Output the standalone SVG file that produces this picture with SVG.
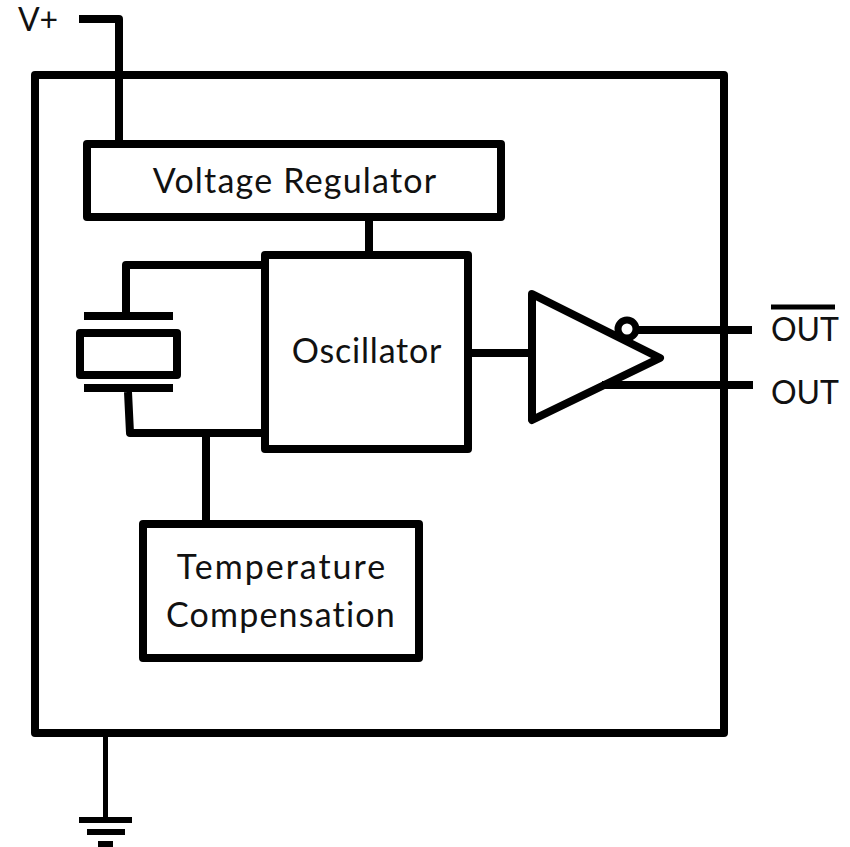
<svg xmlns="http://www.w3.org/2000/svg" width="850" height="847" viewBox="0 0 850 847">
<style>
.s{fill:none;stroke:#000;stroke-width:8;stroke-linejoin:round;stroke-linecap:butt}
.t{font-family:"Lato","Open Sans",sans-serif;font-size:34px;letter-spacing:1.200px;fill:#111;text-anchor:middle}
.l{font-family:"Lato","Open Sans",sans-serif;font-size:32px;fill:#111;text-anchor:middle}
.g{stroke-width:6}
</style>
<rect width="850" height="847" fill="#fff"/>
<g id="connectors">
<path class="s" stroke-linecap="round" d="M79 19H119V144"/>
<path class="s" d="M369 217V255"/>
<path class="s" d="M265 265H126V312"/>
<path class="s" d="M128 392L130 433H265"/>
<path class="s" d="M206 433V524"/>
<path class="s" d="M470 353H532"/>
<path class="s" stroke-linecap="round" d="M636 330H752"/>
<path class="s" stroke-linecap="round" d="M602 385H753"/>
<path class="s" style="stroke-width:5" d="M105.500 737V820"/>
</g>
<g id="package"><rect class="s" x="35" y="75" width="689" height="658"/></g>
<g id="voltage-regulator"><rect class="s" x="87" y="144" width="414" height="73"/><text class="t" x="295" y="193">Voltage Regulator</text></g>
<g id="oscillator"><rect class="s" x="265" y="255" width="203" height="194"/><text class="t" x="367" y="363" style="letter-spacing:0.800px">Oscillator</text></g>
<g id="temperature-compensation"><rect class="s" x="143" y="524" width="276" height="134"/><text class="t" x="282" y="579" style="letter-spacing:2px">Temperature</text><text class="t" x="281" y="627">Compensation</text></g>
<g id="crystal">
<path class="s" d="M84 316H173M84 388H173"/>
<rect class="s" x="80" y="333" width="97" height="42"/>
</g>
<g id="buffer">
<path class="s" d="M532 294L660 358L532 420Z"/>
<circle class="s" style="stroke-width:7" cx="627" cy="329" r="9"/>
</g>
<g id="ground">
<path class="s g" d="M79 820H132M87 832H125M98 844H113"/>
</g>
<g id="label-vplus"><text class="l" x="38" y="31">V+</text></g>
<g id="label-out-bar"><path class="s" style="stroke-width:5" stroke-linecap="round" d="M771 307H835"/><text class="l" x="805" y="341">OUT</text></g>
<g id="label-out"><text class="l" x="805" y="404">OUT</text></g>
</svg>
